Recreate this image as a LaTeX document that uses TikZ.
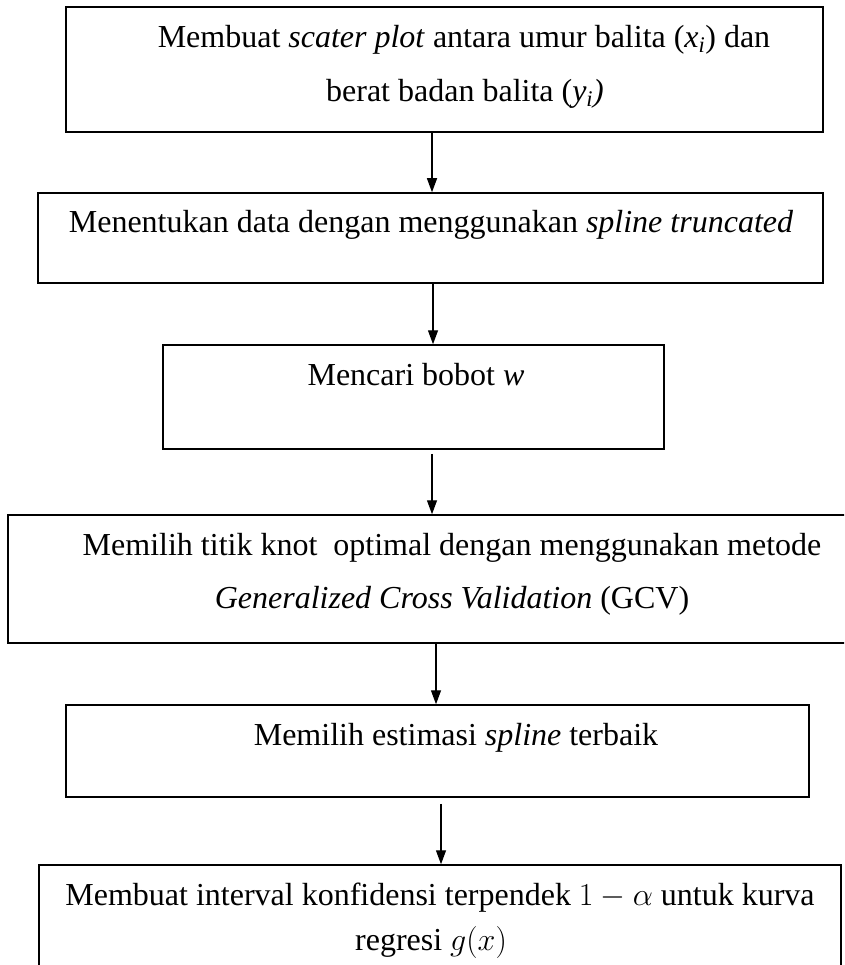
\RequirePackage{fix-cm}
\documentclass[tikz,border=0pt]{standalone}
\usepackage{fontspec}
\setmainfont{Liberation Serif}
\usetikzlibrary{arrows.meta}
\tikzset{
  box/.style={draw=black, line width=1.5pt, inner sep=0pt, rectangle},
  txt/.style={anchor=base, inner sep=0pt, font=\fontsize{32}{38}\selectfont},
  arr/.style={draw=black, line width=1.3pt, -{Triangle[length=14pt,width=10pt]}},
}
\begin{document}
\begin{tikzpicture}[x=1pt,y=-1pt]
\useasboundingbox (0,0) rectangle (844,965);
\clip (0,0) rectangle (844,965);
% boxes
\node[box, minimum width=757pt, minimum height=125pt] (b1) at (444.5,69.5) {};
\node[box, minimum width=785pt, minimum height=90pt] (b2) at (430.5,238) {};
\node[box, minimum width=501pt, minimum height=104pt] (b3) at (413.5,397) {};
\node[box, minimum width=842pt, minimum height=128pt] (b4) at (429,579) {};
\node[box, minimum width=743pt, minimum height=92pt] (b5) at (437.5,751) {};
\node[box, minimum width=802pt, minimum height=110pt] (b6) at (440,920) {};
% texts
\node[txt] (t1a) at (464,48) {Membuat \textit{scater plot} antara umur balita (\textit{x}\textsubscript{\textit{i}}) dan};
\node[txt] (t1b) at (465,102) {berat badan balita (\textit{y}\textsubscript{\textit{i}}\textit{)}};
\node[txt] (t2) at (431,233) {Menentukan data dengan menggunakan \textit{spline truncated}};
\node[txt] (t3) at (416,385) {Mencari bobot \textit{w}};
\node[txt] (t4a) at (452,555) {Memilih titik knot\ \ optimal dengan menggunakan metode};
\node[txt] (t4b) at (452,608) {\textit{Generalized Cross Validation} (GCV)};
\node[txt] (t5) at (456,745) {Memilih estimasi \textit{spline} terbaik};
\node[txt] (t6a) at (440,905) {Membuat interval konfidensi terpendek $1-\alpha$ untuk kurva};
\node[txt] (t6b) at (431,950) {regresi $g(x)$};
% arrow x positions
\coordinate (x1) at (432,0);
\coordinate (x2) at (433,0);
\coordinate (x3) at (432,0);
\coordinate (x4) at (436,0);
\coordinate (x5) at (441,0);
% arrows
\draw[arr] (b1.south -| x1) -- (b2.north -| x1);
\draw[arr] (b2.south -| x2) -- (b3.north -| x2);
\draw[arr] ([yshift=-4pt]b3.south -| x3) -- (b4.north -| x3);
\draw[arr] (b4.south -| x4) -- (b5.north -| x4);
\draw[arr] ([yshift=-6pt]b5.south -| x5) -- (b6.north -| x5);
\end{tikzpicture}
\end{document}
